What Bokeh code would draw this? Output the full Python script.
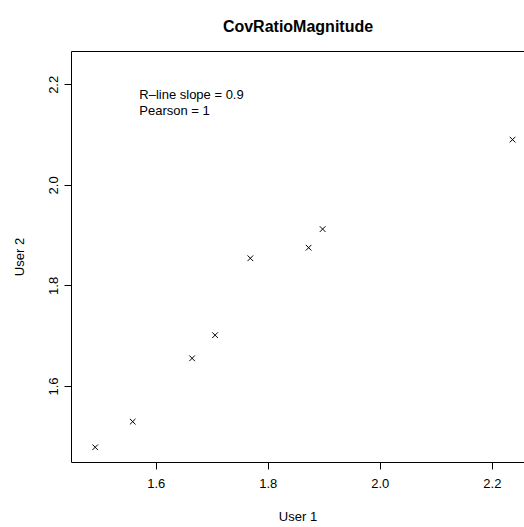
from bokeh.plotting import figure
from bokeh.models import Range1d, FixedTicker, LinearAxis, ColumnDataSource
from bokeh.core.properties import value
from bokeh.embed import file_html
from bokeh.resources import INLINE

# ---- data ----
user1 = [1.491, 1.558, 1.664, 1.705, 1.768, 1.872, 1.897, 2.236]
user2 = [1.479, 1.530, 1.656, 1.702, 1.855, 1.876, 1.913, 2.091]
tick_values = [1.6, 1.8, 2.0, 2.2]
tick_labels = ["1.6", "1.8", "2.0", "2.2"]
note_lines = ["R\u2013line slope = 0.9", "Pearson = 1"]
title_text = "CovRatioMagnitude"
xlab = "User 1"
ylab = "User 2"

# ---- ranges (R style: 4% padding, same limits on both axes) ----
lo = min(user1 + user2)
hi = max(user1 + user2)
pad = 0.04 * (hi - lo)
rstart, rend = lo - pad, hi + pad
# right side of original plot region is cut off by the image edge
xend_visible = rstart + (rend - rstart) * (453.0 / 458.0)

FONT = "Liberation Sans"

p = figure(width=524, height=527, output_backend="svg", toolbar_location=None,
           x_range=Range1d(rstart, xend_visible), y_range=Range1d(rstart, rend),
           min_border_left=71, min_border_right=0, min_border_top=51, min_border_bottom=65)
p.grid.visible = False
p.outline_line_color = None
p.background_fill_color = "white"
p.border_fill_color = "white"

# second (blank) line lifts the title towards the top of the image
p.title.text = title_text + "\n "
p.title.align = "center"
p.title.text_font = FONT
p.title.text_font_size = "16px"
p.title.text_font_style = "bold"
p.title.text_color = "black"
p.title.standoff = 0

for ax in (p.xaxis[0], p.yaxis[0]):
    ax.ticker = FixedTicker(ticks=tick_values)
    ax.major_label_overrides = {v: t for v, t in zip(tick_values, tick_labels)}
    ax.minor_tick_line_color = None
    ax.major_tick_in = 0
    ax.major_tick_out = 7
    ax.axis_line_color = "black"
    ax.major_tick_line_color = "black"
    ax.major_label_text_font = FONT
    ax.major_label_text_font_size = "13px"
    ax.major_label_text_color = "black"
    ax.axis_label_text_font = FONT
    ax.axis_label_text_font_size = "13px"
    ax.axis_label_text_font_style = "normal"
    ax.axis_label_text_color = "black"

p.xaxis[0].axis_label = xlab
p.xaxis[0].major_label_standoff = 9
p.xaxis[0].axis_label_standoff = 18
p.yaxis[0].axis_label = ylab
p.yaxis[0].major_label_orientation = "vertical"
p.yaxis[0].major_label_standoff = 6
p.yaxis[0].axis_label_standoff = 20

# top border of the plot box
top = LinearAxis(ticker=FixedTicker(ticks=[]), axis_line_color="black",
                 major_tick_line_color=None, minor_tick_line_color=None,
                 major_label_text_font_size="0px")
p.add_layout(top, "above")

src = ColumnDataSource(dict(x=user1, y=user2))
p.scatter("x", "y", source=src, marker="x", size=8, line_color="black", line_width=1)

note_src = ColumnDataSource(dict(x=[1.5697, 1.5697], y=[2.1815, 2.1497], t=note_lines))
p.text("x", "y", text="t", source=note_src, text_font=value(FONT), text_font_size="13px",
       text_align="left", text_baseline="middle", text_color="black")

open("out.html", "w").write(file_html(p, INLINE))
